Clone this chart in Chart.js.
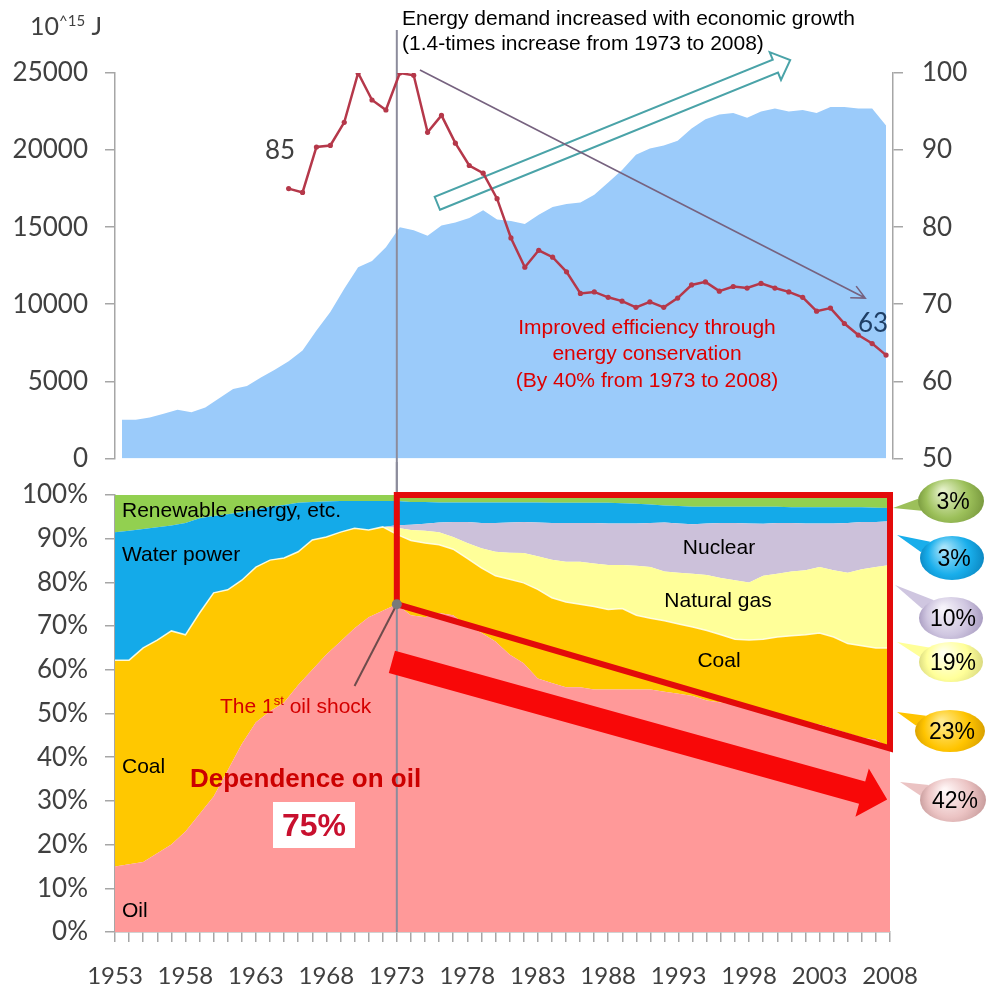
<!DOCTYPE html>
<html>
<head>
<meta charset="utf-8">
<script src="https://cdn.jsdelivr.net/npm/chart.js@4.4.1/dist/chart.umd.min.js"></script>
<style>
  body { margin: 0; background: #fff; }
  #wrap { position: relative; width: 989px; height: 990px; }
  #topChart { position: absolute; left: 0; top: 0; }
  #bottomChart { position: absolute; left: 0; top: 462px; }
</style>
</head>
<body>
<div id="wrap">
  <canvas id="topChart" width="989" height="493"></canvas>
  <canvas id="bottomChart" width="989" height="528"></canvas>
</div>
<script>
// ---- data ----
const years = [
  1953, 1954, 1955, 1956, 1957, 1958, 1959, 1960, 1961, 1962,
  1963, 1964, 1965, 1966, 1967, 1968, 1969, 1970, 1971, 1972,
  1973, 1974, 1975, 1976, 1977, 1978, 1979, 1980, 1981, 1982,
  1983, 1984, 1985, 1986, 1987, 1988, 1989, 1990, 1991, 1992,
  1993, 1994, 1995, 1996, 1997, 1998, 1999, 2000, 2001, 2002,
  2003, 2004, 2005, 2006, 2007, 2008
];
const yearLabels = [1953, 1958, 1963, 1968, 1973, 1978, 1983, 1988, 1993, 1998, 2003, 2008];
const demandTicks = [0, 5000, 10000, 15000, 20000, 25000];
const efficiencyTicks = [50, 60, 70, 80, 90, 100];
const shareTicks = [0, 10, 20, 30, 40, 50, 60, 70, 80, 90, 100];

// final energy consumption, 10^15 J
const demand = [
  2500, 2500, 2650, 2900, 3150, 3000, 3300, 3900, 4500, 4700,
  5250, 5750, 6300, 7000, 8300, 9500, 11000, 12400, 12800, 13700,
  15000, 14800, 14450, 15100, 15300, 15600, 16100, 15500, 15400, 15200,
  15800, 16300, 16500, 16600, 17100, 17900, 18700, 19700, 20100, 20300,
  20600, 21400, 22000, 22300, 22400, 22100, 22500, 22700, 22500, 22600,
  22400, 22800, 22800, 22700, 22700, 21600
];
// energy consumption per GDP index (1973 = 100)
const efficiency = [
  null, null, null, null, null, null, null, null, null, null,
  null, null, 85, 84.5, 90.4, 90.6, 93.6, 100, 96.5, 95.2,
  100, 99.7, 92.3, 94.5, 90.9, 88, 87, 83.7, 78.6, 74.8,
  77, 76.1, 74.2, 71.4, 71.6, 70.9, 70.4, 69.6, 70.3, 69.6,
  70.8, 72.5, 72.9, 71.7, 72.3, 72.1, 72.7, 72.1, 71.6, 70.9,
  69.1, 69.5, 67.5, 66, 64.9, 63.4
];

// primary energy shares, %
const oil = [
  15, 15.5, 16, 18, 20, 23, 27, 31, 37, 43,
  48, 50.5, 52.5, 56.5, 60, 63.5, 66.5, 69.5, 72, 73.5,
  75, 72.5, 72, 73, 72.5, 70, 68.5, 66.5, 63.5, 61.5,
  58, 57, 56, 56, 55.5, 55.5, 55.5, 55.5, 55.5, 55,
  54.5, 54, 53, 52.5, 52, 51, 50.5, 49.5, 49, 48,
  47.5, 46.5, 45.5, 44.5, 44, 42
];
const coal = [
  47.2, 46.7, 49, 48.8, 48.9, 45, 46, 46.6, 41.3, 37.5,
  35.5, 34.6, 33.1, 30.5, 29.7, 26.9, 25, 22.9, 20, 19.2,
  16, 17.1, 17, 15.6, 15.1, 15.5, 14.8, 15, 17.2, 18.4,
  20.4, 19.5, 19.5, 19, 19, 18.3, 18.5, 17, 16.3, 16.2,
  16, 15.8, 16, 15.5, 15, 15.8, 16.5, 18, 18.8, 20,
  20.9, 21, 20.5, 21, 21, 23
];
const gas = [
  0, 0, 0, 0, 0, 0, 0, 0, 0, 0,
  0, 0, 0, 0, 0, 0, 0, 0, 0, 0,
  1.5, 2.4, 2.8, 2.9, 2.8, 3.5, 4.5, 5.5, 6.1, 6.8,
  7.6, 8.7, 9.2, 9.7, 9.8, 10.2, 10, 11.3, 11.7, 11.3,
  11.7, 12.2, 12.7, 13, 13.5, 13.2, 14.5, 14.5, 14.7, 14.8,
  15.1, 15.3, 16.2, 17.5, 18.5, 19
];
const nuclear = [
  0, 0, 0, 0, 0, 0, 0, 0, 0, 0,
  0, 0, 0, 0, 0, 0, 0, 0, 0, 0,
  0.6, 1.2, 1.6, 2.2, 3.4, 4.8, 5.8, 6.6, 6.9, 7.1,
  7.7, 8.4, 8.9, 8.9, 9.3, 9.5, 9.5, 9.7, 10.1, 11.2,
  11.3, 11.3, 11.8, 12.6, 13.1, 13.5, 11.9, 11.6, 11.1, 10.7,
  10, 10.7, 11.4, 10.8, 10.3, 10
];
const hydro = [
  29.3, 29.6, 27.2, 25.8, 24.1, 25.6, 21.7, 17.6, 17.3, 15.6,
  13.2, 12.2, 12.1, 11.2, 8.7, 8.1, 7.1, 6.2, 6.6, 5.9,
  5.5, 5.2, 5, 4.6, 4.5, 4.5, 4.7, 4.7, 4.6, 4.5,
  4.6, 4.6, 4.6, 4.6, 4.6, 4.7, 4.6, 4.5, 4.2, 3.9,
  4, 4, 3.8, 3.7, 3.7, 3.8, 3.9, 3.7, 3.6, 3.7,
  3.7, 3.7, 3.6, 3.4, 3.3, 3
];
const renewable = [
  8.5, 8.2, 7.8, 7.4, 7, 6.4, 5.3, 4.8, 4.4, 3.9,
  3.3, 2.7, 2.3, 1.8, 1.6, 1.5, 1.4, 1.4, 1.4, 1.4,
  1.4, 1.6, 1.6, 1.7, 1.7, 1.7, 1.7, 1.7, 1.7, 1.7,
  1.7, 1.8, 1.8, 1.8, 1.8, 1.8, 1.9, 2, 2.2, 2.4,
  2.5, 2.7, 2.7, 2.7, 2.7, 2.7, 2.7, 2.7, 2.8, 2.8,
  2.8, 2.8, 2.8, 2.8, 2.9, 3
];

// ---- styling ----
const textFont = "'Liberation Sans', Arial, sans-serif";
const tickFont = "Lato, 'Open Sans', sans-serif";
const axisGrey = "#A6A6A6";
const tickColor = "#404040";
const shockYear = 1973;

const pts = (arr) => years.map((y, i) => ({ x: y, y: arr[i] })).filter(p => p.y !== null);
const last = (arr) => arr[arr.length - 1];

function arrowPath(ctx, x0, y0, x1, y1, bodyHalf, headLen, headHalf) {
  const len = Math.hypot(x1 - x0, y1 - y0);
  const ux = (x1 - x0) / len, uy = (y1 - y0) / len;
  const nx = -uy, ny = ux;
  const bx = x1 - ux * headLen, by = y1 - uy * headLen;
  ctx.beginPath();
  ctx.moveTo(x0 + nx * bodyHalf, y0 + ny * bodyHalf);
  ctx.lineTo(bx + nx * bodyHalf, by + ny * bodyHalf);
  ctx.lineTo(bx + nx * headHalf, by + ny * headHalf);
  ctx.lineTo(x1, y1);
  ctx.lineTo(bx - nx * headHalf, by - ny * headHalf);
  ctx.lineTo(bx - nx * bodyHalf, by - ny * bodyHalf);
  ctx.lineTo(x0 - nx * bodyHalf, y0 - ny * bodyHalf);
  ctx.closePath();
}

// text made of pieces (for superscripts)
function drawPieces(ctx, x, y, pieces) {
  let cx = x;
  ctx.textAlign = "left";
  ctx.textBaseline = "middle";
  pieces.forEach(([t, font, dy, color]) => {
    ctx.font = font;
    ctx.fillStyle = color;
    ctx.fillText(t, cx, y + dy);
    cx += ctx.measureText(t).width;
  });
}

function bubble(ctx, b) {
  const a = Math.atan2((b.ty - b.cy) / b.ry, (b.tx - b.cx) / b.rx);
  ctx.save();
  ctx.fillStyle = b.base;
  ctx.beginPath();
  ctx.moveTo(b.cx + b.rx * Math.cos(a - 0.28), b.cy + b.ry * Math.sin(a - 0.28));
  ctx.lineTo(b.tx, b.ty);
  ctx.lineTo(b.cx + b.rx * Math.cos(a + 0.28), b.cy + b.ry * Math.sin(a + 0.28));
  ctx.closePath();
  ctx.fill();
  const g = ctx.createRadialGradient(b.cx - b.rx * 0.25, b.cy - b.ry * 0.45, 2, b.cx, b.cy, b.rx * 1.05);
  g.addColorStop(0, b.light);
  g.addColorStop(0.6, b.base);
  g.addColorStop(1, b.dark);
  ctx.fillStyle = g;
  ctx.beginPath();
  ctx.ellipse(b.cx, b.cy, b.rx, b.ry, 0, 0, Math.PI * 2);
  ctx.fill();
  ctx.fillStyle = "#000";
  ctx.font = "23px " + textFont;
  ctx.textAlign = "center";
  ctx.textBaseline = "middle";
  ctx.fillText(b.text, b.cx + 2, b.cy + 2);
  ctx.restore();
}

// ---- bottom chart: shares ----
const stackColors = ["#FF9999", "#FFC800", "#FFFF99", "#CCC1DA", "#14AAE9", "#92D050"];
const stackSeries = [oil, coal, gas, nuclear, hydro, renewable];
const stackNames = ["Oil", "Coal", "Natural gas", "Nuclear", "Water power", "Renewable energy, etc."];

const bottomAnnotations = {
  id: "bottomAnnotations",
  afterDatasetsDraw(chart) {
    const ctx = chart.ctx;
    const xs = chart.scales.x, ys = chart.scales.y;
    const px = v => xs.getPixelForValue(v), py = v => ys.getPixelForValue(v);
    const oy = 462; // page offset of this canvas
    const i73 = years.indexOf(shockYear);
    ctx.save();

    // 1973 line
    ctx.strokeStyle = "#8C8C9C";
    ctx.lineWidth = 2;
    ctx.beginPath();
    ctx.moveTo(px(shockYear), 0);
    ctx.lineTo(px(shockYear), chart.chartArea.bottom);
    ctx.stroke();

    // red frame from 1973 to 2008
    ctx.strokeStyle = "#E30A0A";
    ctx.lineWidth = 6;
    ctx.lineJoin = "miter";
    ctx.beginPath();
    ctx.moveTo(px(shockYear), py(100));
    ctx.lineTo(px(last(years)), py(100));
    ctx.lineTo(px(last(years)), py(last(oil)));
    ctx.lineTo(px(shockYear), py(oil[i73]));
    ctx.closePath();
    ctx.stroke();

    // thick red arrow
    ctx.fillStyle = "#F80808";
    arrowPath(ctx, px(1972.65), py(61.8), px(2007.8), py(30.3), 11.5, 26, 25);
    ctx.fill();

    // oil shock pointer
    ctx.strokeStyle = "#6D4C4C";
    ctx.lineWidth = 2;
    ctx.beginPath();
    ctx.moveTo(px(shockYear), py(oil[i73]));
    ctx.lineTo(px(1970.0), py(56.3));
    ctx.stroke();
    ctx.fillStyle = "#7A7A7A";
    ctx.beginPath();
    ctx.arc(px(shockYear), py(oil[i73]), 5, 0, Math.PI * 2);
    ctx.fill();

    // labels of the bands
    ctx.fillStyle = "#000";
    ctx.font = "21px " + textFont;
    ctx.textBaseline = "middle";
    ctx.textAlign = "left";
    ctx.fillText(stackNames[5], 122, 511 - oy);
    ctx.fillText(stackNames[4], 122, 555 - oy);
    ctx.fillText(stackNames[1], 122, 767 - oy);
    ctx.fillText(stackNames[0], 122, 911 - oy);
    ctx.textAlign = "center";
    ctx.fillText(stackNames[3], 719, 548 - oy);
    ctx.fillText(stackNames[2], 718, 601 - oy);
    ctx.fillText(stackNames[1], 719, 661 - oy);

    // oil shock text
    drawPieces(ctx, 220, 707 - oy, [
      ["The 1", "21px " + textFont, 0, "#D40000"],
      ["st", "13px " + textFont, -6, "#D40000"],
      [" oil shock", "21px " + textFont, 0, "#D40000"]
    ]);

    // dependence on oil
    ctx.textAlign = "left";
    ctx.font = "bold 26px " + textFont;
    ctx.fillStyle = "#CC0000";
    ctx.fillText("Dependence on oil", 190, 780 - oy);
    ctx.fillStyle = "#FFFFFF";
    ctx.fillRect(273, 802 - oy, 82, 46);
    ctx.fillStyle = "#C8102E";
    ctx.font = "bold 32px " + textFont;
    ctx.textAlign = "center";
    ctx.fillText(Math.round(oil[i73]) + "%", 314, 827 - oy);

    // 2008 share callouts
    const pct = v => Math.round(v) + "%";
    [
      { text: pct(last(renewable)), cx: 951, cy: 501, rx: 33, ry: 22, tx: 893, ty: 508, light: "#E4F0C8", base: "#9CC05A", dark: "#76963C" },
      { text: pct(last(hydro)), cx: 952, cy: 558, rx: 32, ry: 22, tx: 897, ty: 535, light: "#A6E3FA", base: "#19AEEB", dark: "#0A84BE" },
      { text: pct(last(nuclear)), cx: 951, cy: 618, rx: 32, ry: 21, tx: 895, ty: 585, light: "#F6F3FA", base: "#CFC6E0", dark: "#A598BE" },
      { text: pct(last(gas)), cx: 951, cy: 662, rx: 32, ry: 20, tx: 897, ty: 642, light: "#FFFFEE", base: "#FFFF99", dark: "#D6D67E" },
      { text: pct(last(coal)), cx: 950, cy: 731, rx: 35, ry: 21, tx: 897, ty: 712, light: "#FFEA8C", base: "#FFC400", dark: "#D49C00" },
      { text: pct(last(oil)), cx: 953, cy: 800, rx: 33, ry: 22, tx: 900, ty: 782, light: "#FFF6F6", base: "#EBC3C3", dark: "#C49898" }
    ].forEach(b => bubble(ctx, { ...b, cy: b.cy - oy, ty: b.ty - oy }));

    ctx.restore();
  }
};

const bottomChart = new Chart(document.getElementById("bottomChart"), {
  type: "line",
  data: {
    datasets: stackSeries.map((arr, i) => ({
      label: stackNames[i],
      data: pts(arr),
      fill: i === 0 ? "origin" : "-1",
      backgroundColor: stackColors[i],
      borderColor: i === 1 ? "rgba(255,255,235,0.9)" : stackColors[i],
      borderWidth: i === 1 ? 1.5 : 0,
      pointRadius: 0,
      tension: 0
    }))
  },
  options: {
    responsive: false,
    animation: false,
    layout: { padding: { top: 33, right: 99, left: 0, bottom: 0 } },
    plugins: { legend: { display: false }, tooltip: { enabled: false } },
    scales: {
      x: {
        type: "linear",
        min: years[0],
        max: last(years),
        ticks: {
          stepSize: 1,
          autoSkip: false,
          maxRotation: 0,
          padding: 20,
          color: tickColor,
          font: { family: tickFont, size: 24 },
          callback: v => (yearLabels.includes(v) ? String(v) : "")
        },
        grid: { drawOnChartArea: false, drawTicks: true, tickLength: 10, color: axisGrey, lineWidth: 1.5 },
        border: { display: true, color: axisGrey, width: 1.5 },
        afterFit: s => { s.height = 58; }
      },
      y: {
        stacked: true,
        min: shareTicks[0],
        max: last(shareTicks),
        ticks: {
          stepSize: 10,
          padding: 17,
          color: tickColor,
          font: { family: tickFont, size: 26 },
          callback: v => (shareTicks.includes(v) ? v + "%" : "")
        },
        grid: { drawOnChartArea: false, drawTicks: true, tickLength: 10, color: axisGrey, lineWidth: 1.5 },
        border: { display: true, color: axisGrey, width: 1.5 },
        afterFit: s => { s.width = 115; }
      }
    }
  },
  plugins: [bottomAnnotations]
});

// ---- top chart: demand and efficiency ----
const topAnnotations = {
  id: "topAnnotations",
  beforeDatasetDraw(chart, args) {
    if (args.index !== 0) return;
    const ctx = chart.ctx;
    const xs = chart.scales.x, ys = chart.scales.y;
    ctx.save();
    // 1973 line, shared x with the lower chart
    const lx = bottomChart.scales.x.getPixelForValue(shockYear);
    ctx.strokeStyle = "#8C8C9C";
    ctx.lineWidth = 2;
    ctx.beginPath();
    ctx.moveTo(lx, 30);
    ctx.lineTo(lx, chart.height);
    ctx.stroke();
    // hollow growth arrow
    arrowPath(ctx, xs.getPixelForValue(1975.7), ys.getPixelForValue(16550),
      xs.getPixelForValue(2001.1), ys.getPixelForValue(25840), 7, 16, 15);
    ctx.fillStyle = "#FFFFFF";
    ctx.fill();
    ctx.strokeStyle = "#4AA3A8";
    ctx.lineWidth = 2;
    ctx.stroke();
    ctx.restore();
  },
  afterDatasetsDraw(chart) {
    const ctx = chart.ctx;
    const xs = chart.scales.x, y1 = chart.scales.y1;
    ctx.save();
    // thin trend arrow
    const x0 = xs.getPixelForValue(1974.45), yy0 = y1.getPixelForValue(100.4);
    const x1 = xs.getPixelForValue(2006.5), yy1 = y1.getPixelForValue(70.8);
    ctx.strokeStyle = "#76627F";
    ctx.lineWidth = 1.6;
    ctx.beginPath();
    ctx.moveTo(x0, yy0);
    ctx.lineTo(x1, yy1);
    const ang = Math.atan2(yy1 - yy0, x1 - x0);
    ctx.moveTo(x1 - 15 * Math.cos(ang - 0.45), yy1 - 15 * Math.sin(ang - 0.45));
    ctx.lineTo(x1, yy1);
    ctx.lineTo(x1 - 15 * Math.cos(ang + 0.45), yy1 - 15 * Math.sin(ang + 0.45));
    ctx.stroke();

    // unit
    drawPieces(ctx, 30, 27, [
      ["10", "25px " + tickFont, 0, tickColor],
      ["^15", "15px " + tickFont, -6, tickColor],
      [" J", "25px " + tickFont, 0, tickColor]
    ]);

    // first and last efficiency values
    const effPts = pts(efficiency);
    ctx.font = "26px " + tickFont;
    ctx.textAlign = "center";
    ctx.textBaseline = "middle";
    ctx.fillStyle = tickColor;
    ctx.fillText(String(Math.round(effPts[0].y)), 280, 151);
    ctx.fillStyle = "#1F3F66";
    ctx.fillText(String(Math.round(last(effPts).y)), 873, 324);

    // notes
    ctx.fillStyle = "#000";
    ctx.font = "21px " + textFont;
    ctx.textAlign = "left";
    ctx.fillText("Energy demand increased with economic growth", 402, 19);
    ctx.fillText("(1.4-times increase from 1973 to 2008)", 402, 44);
    ctx.fillStyle = "#DD0000";
    ctx.textAlign = "center";
    ctx.fillText("Improved efficiency through", 647, 328);
    ctx.fillText("energy conservation", 647, 354);
    ctx.fillText("(By 40% from 1973 to 2008)", 647, 381);
    ctx.restore();
  }
};

new Chart(document.getElementById("topChart"), {
  type: "line",
  data: {
    datasets: [
      {
        label: "Energy consumption per GDP",
        data: pts(efficiency),
        yAxisID: "y1",
        borderColor: "#B5384A",
        backgroundColor: "#B5384A",
        borderWidth: 2.5,
        pointRadius: 2.6,
        pointBorderWidth: 0,
        fill: false,
        tension: 0
      },
      {
        label: "Final energy consumption",
        data: pts(demand),
        yAxisID: "y",
        fill: "origin",
        backgroundColor: "#9BCBFA",
        borderWidth: 0,
        pointRadius: 0,
        tension: 0
      }
    ]
  },
  options: {
    responsive: false,
    animation: false,
    layout: { padding: { top: 73, bottom: 0, left: 0, right: 0 } },
    plugins: { legend: { display: false }, tooltip: { enabled: false } },
    scales: {
      x: { type: "linear", min: years[0] - 0.5, max: last(years) + 0.5, display: false },
      y: {
        position: "left",
        min: demandTicks[0],
        max: last(demandTicks),
        ticks: { stepSize: 5000, padding: 17, color: tickColor, font: { family: tickFont, size: 26 },
          callback: v => (demandTicks.includes(v) ? String(v) : "") },
        grid: { drawOnChartArea: false, drawTicks: true, tickLength: 10, color: axisGrey, lineWidth: 1.5 },
        border: { display: true, color: axisGrey, width: 1.5 },
        afterFit: s => { s.width = 115; }
      },
      y1: {
        position: "right",
        min: efficiencyTicks[0],
        max: last(efficiencyTicks),
        ticks: { stepSize: 10, padding: 19, color: tickColor, font: { family: tickFont, size: 26 },
          callback: v => (efficiencyTicks.includes(v) ? String(v) : "") },
        grid: { drawOnChartArea: false, drawTicks: true, tickLength: 10, color: axisGrey, lineWidth: 1.5 },
        border: { display: true, color: axisGrey, width: 1.5 },
        afterFit: s => { s.width = 96; }
      }
    }
  },
  plugins: [topAnnotations]
});
</script>
</body>
</html>
